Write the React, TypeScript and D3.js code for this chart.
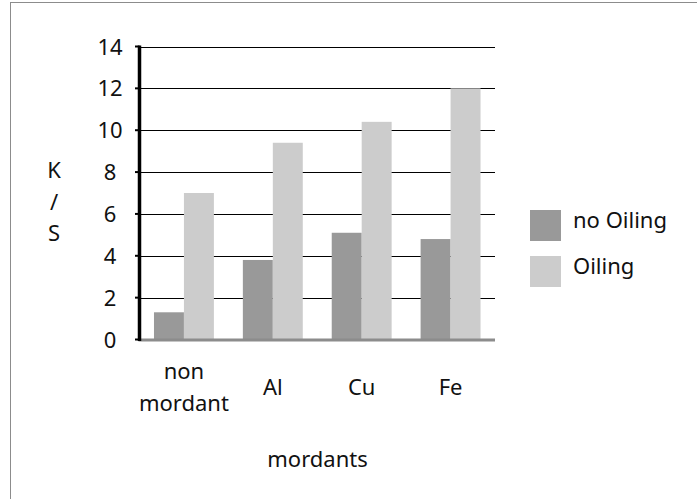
import React from "react";
import * as d3 from "d3";

const categories = [["non", "mordant"], ["Al"], ["Cu"], ["Fe"]];
const categoryKeys = ["non mordant", "Al", "Cu", "Fe"];
const seriesNames = ["no Oiling", "Oiling"];
const noOiling = [1.3, 3.8, 5.1, 4.8];
const oiling = [7.0, 9.4, 10.4, 12.0];
const yTicks = [0, 2, 4, 6, 8, 10, 12, 14];
const yTitle = ["K", "/", "S"];
const xTitle = "mordants";
const colors = ["#999999", "#cccccc"];

export default function App() {
  const W = 697, H = 499;
  const left = 139.5, right = 495, top = 46.5, bottom = 339.5;
  const font = "'Noto Sans', sans-serif";
  const fs = 22;

  const x = d3.scaleBand<string>().domain(categoryKeys).range([left, right]).paddingInner(29 / 89).paddingOuter(14.5 / 89);
  const xs = d3.scaleBand<string>().domain(seriesNames).range([0, x.bandwidth()]).padding(0);
  const y = d3.scaleLinear().domain([0, 14]).range([bottom, top]);
  const series = [noOiling, oiling];

  return (
    <svg width={W} height={H} style={{ position: "absolute", left: 0, top: 0 }} fontFamily={font}>
      <rect x={0} y={0} width={W} height={H} fill="#fff" />
      <rect x={10.5} y={2.5} width={W} height={H} fill="none" stroke="#8c8c8c" strokeWidth={1} />
      {yTicks.filter(t => t > 0).map(t => (
        <line key={"g" + t} x1={left} x2={right} y1={Math.round(y(t)) + 0.5} y2={Math.round(y(t)) + 0.5} stroke="#000" strokeWidth={1} />
      ))}
      {categoryKeys.map((c, i) =>
        series.map((s, j) => (
          <rect key={c + j} x={(x(c) as number) + (xs(seriesNames[j]) as number)} y={y(s[i])} width={xs.bandwidth()} height={bottom - y(s[i])} fill={colors[j]} />
        ))
      )}
      <line x1={left - 1} x2={right} y1={bottom + 0.5} y2={bottom + 0.5} stroke="#8c8c8c" strokeWidth={3} />
      <line x1={left} x2={left} y1={top - 1} y2={bottom + 1.5} stroke="#000" strokeWidth={3.5} />
      {yTicks.map(t => (
        <line key={"t" + t} x1={135} x2={left} y1={y(t)} y2={y(t)} stroke="#000" strokeWidth={2} />
      ))}
      {yTicks.map(t => (
        <text key={"l" + t} x={110} y={y(t) + 8} textAnchor="middle" fontSize={fs} fill="#111">{t}</text>
      ))}
      {categories.map((lines, i) => {
        const cx = (x(categoryKeys[i]) as number) + x.bandwidth() / 2;
        if (lines.length === 1) {
          return <text key={"c" + i} x={cx} y={395} textAnchor="middle" fontSize={fs} fill="#111">{lines[0]}</text>;
        }
        return (
          <text key={"c" + i} x={cx} textAnchor="middle" fontSize={fs} fill="#111">
            {lines.map((ln, k) => <tspan key={k} x={cx} y={379 + k * 32}>{ln}</tspan>)}
          </text>
        );
      })}
      <text x={317.5} y={467} textAnchor="middle" fontSize={fs} fill="#111">{xTitle}</text>
      {yTitle.map((t, k) => (
        <text key={"y" + k} x={54} y={178 + k * 31.5} textAnchor="middle" fontSize={fs} fill="#111">{t}</text>
      ))}
      {seriesNames.map((n, j) => (
        <g key={"lg" + j}>
          <rect x={530} y={210 + j * 46} width={31} height={31} fill={colors[j]} />
          <text x={573} y={228 + j * 46} fontSize={fs} fill="#111">{n}</text>
        </g>
      ))}
    </svg>
  );
}
